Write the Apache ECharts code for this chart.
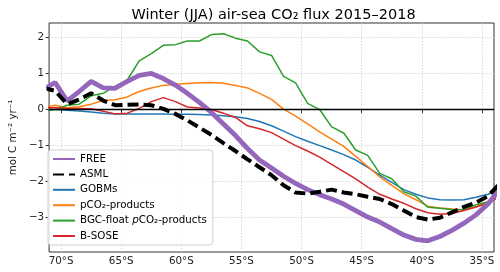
<!DOCTYPE html>
<html>
<head>
<meta charset="utf-8">
<script src="https://cdn.jsdelivr.net/npm/echarts@6/dist/echarts.min.js"></script>
<style>html,body{margin:0;padding:0;background:#fff}#c{width:500px;height:272px}</style>
</head>
<body>
<div id="c"></div>
<script>
const lats = [-71.5,-70.5,-69.5,-68.5,-67.5,-66.5,-65.5,-64.5,-63.5,-62.5,-61.5,-60.5,-59.5,-58.5,-57.5,-56.5,-55.5,-54.5,-53.5,-52.5,-51.5,-50.5,-49.5,-48.5,-47.5,-46.5,-45.5,-44.5,-43.5,-42.5,-41.5,-40.5,-39.5,-38.5,-37.5,-36.5,-35.5,-34.5,-33.5];
const free = [0.55,0.75,0.24,0.5,0.78,0.6,0.59,0.78,0.95,1.0,0.86,0.68,0.45,0.2,-0.08,-0.4,-0.72,-1.08,-1.4,-1.62,-1.85,-2.05,-2.22,-2.36,-2.48,-2.62,-2.8,-2.98,-3.12,-3.3,-3.48,-3.6,-3.64,-3.52,-3.35,-3.15,-2.92,-2.62,-2.2];
const asml = [0.6,0.52,0.15,0.28,0.45,0.25,0.12,0.13,0.14,0.12,0.02,-0.12,-0.3,-0.5,-0.7,-0.93,-1.15,-1.38,-1.6,-1.82,-2.1,-2.3,-2.33,-2.28,-2.22,-2.3,-2.35,-2.42,-2.48,-2.62,-2.8,-2.98,-3.05,-3.0,-2.85,-2.7,-2.58,-2.4,-2.05];
const gobms = [0.0,0.0,-0.02,-0.04,-0.07,-0.1,-0.12,-0.12,-0.12,-0.12,-0.12,-0.13,-0.13,-0.14,-0.15,-0.17,-0.2,-0.25,-0.33,-0.45,-0.6,-0.75,-0.88,-1.0,-1.12,-1.25,-1.4,-1.6,-1.82,-2.02,-2.22,-2.35,-2.45,-2.5,-2.51,-2.5,-2.43,-2.35,-2.22];
const pco2 = [0.05,0.12,0.05,0.08,0.15,0.25,0.27,0.35,0.5,0.6,0.67,0.7,0.72,0.74,0.75,0.73,0.67,0.6,0.45,0.28,0.01,-0.18,-0.4,-0.62,-0.82,-1.02,-1.3,-1.58,-1.87,-2.1,-2.33,-2.5,-2.68,-2.73,-2.76,-2.78,-2.7,-2.55,-2.25];
const bgc = [-0.05,0.0,0.12,0.15,0.38,0.45,0.65,0.82,1.35,1.55,1.78,1.8,1.9,1.9,2.08,2.1,1.98,1.9,1.6,1.5,0.92,0.74,0.17,0.0,-0.48,-0.65,-1.12,-1.27,-1.77,-1.92,-2.28,-2.4,-2.71,-2.74,-2.77,-2.78,-2.64,-2.56,-2.3];
const bsose = [0.05,0.05,0.03,0.03,0.02,-0.05,-0.12,-0.1,0.03,0.22,0.33,0.22,0.07,0.04,0.0,-0.1,-0.22,-0.45,-0.53,-0.64,-0.82,-1.0,-1.15,-1.32,-1.52,-1.72,-1.92,-2.15,-2.35,-2.48,-2.6,-2.75,-2.86,-2.9,-2.88,-2.8,-2.7,-2.6,-2.4];
const xTicks = [-70,-65,-60,-55,-50,-45,-40,-35];
const yTicks = [-3,-2,-1,0,1,2];
const names = ['FREE','ASML','GOBMs','pCO₂-products','BGC-float pCO₂-products','B-SOSE'];

const FONT = 'DejaVu Sans';
const FS = 10.3;
const pts = v => lats.map((x,i)=>[x, v[i]]);
const chart = echarts.init(document.getElementById('c'), null, {renderer:'canvas'});

function line(name, vals, color, width, type, z){
  return {name, type:'line', data:pts(vals), symbol:'none', showSymbol:false, clip:true,
    lineStyle:{color, width, type}, itemStyle:{color}, z, animation:false};
}
const series = [
  line(names[2], gobms, '#1f77b4', 1.5, 'solid', 3),
  line(names[3], pco2, '#ff7f0e', 1.5, 'solid', 3),
  line(names[4], bgc, '#2ca02c', 1.5, 'solid', 3),
  line(names[5], bsose, '#d62728', 1.5, 'solid', 3),
  line(names[0], free, '#9467bd', 4.8, 'solid', 4),
  line(names[1], asml, '#000000', 4, [11,5], 5)
];
series[0].markLine = {silent:true, symbol:['none','none'], label:{show:false}, animation:false,
  lineStyle:{color:'#000', width:1.3, type:'solid'}, data:[{yAxis:0}]};

chart.setOption({
  animation:false,
  title:{text:'Winter (JJA) air-sea CO₂ flux 2015–2018', left:268.5, textAlign:'center', top:3,
    textStyle:{fontFamily:FONT, fontSize:14.5, fontWeight:'normal', color:'#000'}},
  grid:{left:43, right:6, top:23, bottom:20, show:true, borderColor:'#333', borderWidth:1, backgroundColor:'transparent'},
  legend:{data:names, orient:'vertical', left:48, top:150, itemWidth:22, itemHeight:10, itemGap:5.4,
    padding:[4,6,4,4], backgroundColor:'rgba(255,255,255,0.85)', borderColor:'#d0d0d0', borderWidth:1, borderRadius:3,
    itemStyle:{color:'rgba(0,0,0,0)', borderColor:'rgba(0,0,0,0)', borderWidth:0},
    textStyle:{fontFamily:FONT, fontSize:FS, lineHeight:10, color:'#000', rich:{i:{fontFamily:FONT, fontSize:FS, lineHeight:10, fontStyle:'italic', color:'#000'}}},
    formatter: n => n.startsWith('BGC') ? 'BGC-float {i|p}CO₂-products' : n},
  xAxis:{type:'value', min:-71, max:-34,
    axisLine:{show:false},
    axisTick:{show:true, length:3.5, inside:false, lineStyle:{color:'#333'}, customValues:xTicks},
    axisLabel:{fontFamily:FONT, fontSize:FS, color:'#222', margin:4, customValues:xTicks, formatter:v=>Math.abs(v)+'°S'},
    splitLine:{show:true, lineStyle:{color:'#cfcfcf', type:[1.5,1.5], width:0.8}}},
  yAxis:{type:'value', min:-3.95, max:2.4,
    name:'mol C m⁻² yr⁻¹', nameLocation:'middle', nameGap:29, nameTextStyle:{fontFamily:FONT, fontSize:FS, color:'#222'},
    axisLine:{show:false},
    axisTick:{show:true, length:3.5, lineStyle:{color:'#333'}, customValues:yTicks},
    axisLabel:{fontFamily:FONT, fontSize:FS, color:'#222', margin:5, customValues:yTicks, formatter:v=>String(v).replace('-','−')},
    splitLine:{show:true, lineStyle:{color:'#cfcfcf', type:[1.5,1.5], width:0.8}}},
  series
});
</script>
</body>
</html>
